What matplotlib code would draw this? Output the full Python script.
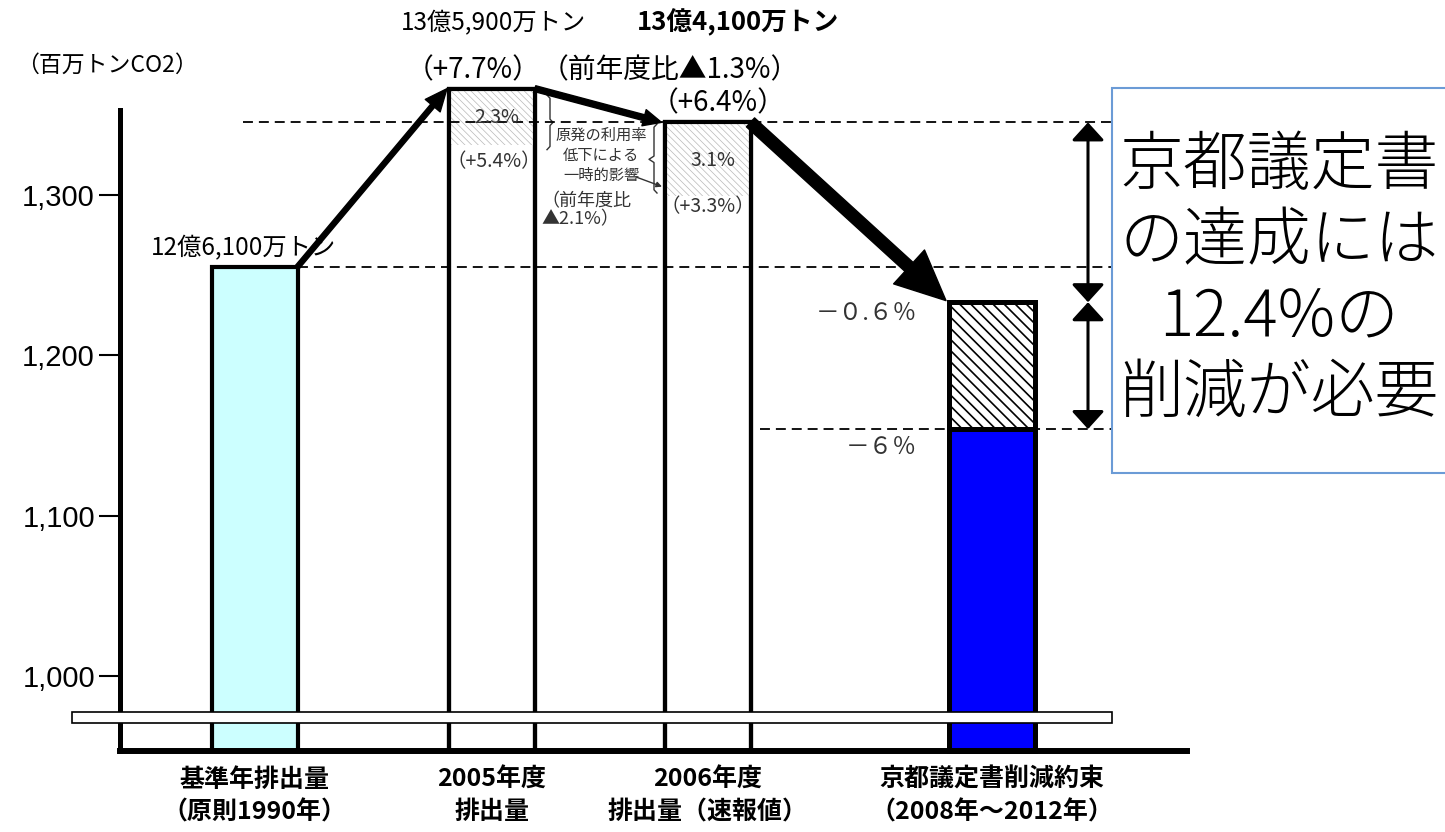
import matplotlib
matplotlib.use('Agg')
import matplotlib.pyplot as plt
from matplotlib.patches import Rectangle

# Fuentes: japonés con respaldo latino
plt.rcParams['font.family'] = ['Noto Sans CJK JP', 'DejaVu Sans']
plt.rcParams['hatch.linewidth'] = 1.0

# --------------------------
# DATOS (百万トンCO2)
# --------------------------
categories = ['基準年排出量\n（原則1990年）', '2005年度\n排出量',
              '2006年度\n排出量（速報値）', '京都議定書削減約束\n（2008年～2012年）']
emissions = [1255, 1366, 1345]          # 基準年, 2005, 2006
nuclear_bottom = [1331, 1299]           # límite inferior del efecto nuclear (2005, 2006)
kyoto_target = 1154                     # －6%
kyoto_upper = 1233                      # －0.6%
yticks = [1000, 1100, 1200, 1300]
ytick_labels = ['1,000', '1,100', '1,200', '1,300']

# --------------------------
# ESTILO / POSICIONES
# --------------------------
xpos = [254.5, 492, 707.5, 992]
bar_w = 86
base = 953.6
c_base = '#ccffff'
c_blue = '#0000ff'
c_box = '#6b9bd6'
c_txt = '#333333'

fig = plt.figure(figsize=(14.45, 8.32), dpi=100)
ax = fig.add_axes([0, 0, 1, 1])
ax.set_xlim(0, 1445)
ax.set_ylim(903.1, 1421.2)

for s in ['top', 'right']:
    ax.spines[s].set_visible(False)
ax.spines['left'].set_position(('data', 120))
ax.spines['left'].set_bounds(base, 1352.7)
ax.spines['left'].set_linewidth(3.6)
ax.spines['bottom'].set_position(('data', base))
ax.spines['bottom'].set_bounds(120, 1187)
ax.spines['bottom'].set_linewidth(4.3)

ax.set_yticks(yticks, ytick_labels)
ax.tick_params(axis='y', direction='out', length=15, width=1.5, pad=3, labelsize=21)
for t in ax.get_yticklabels():
    t.set_fontfamily('Liberation Sans')
ax.set_xticks(xpos, categories)
ax.tick_params(axis='x', length=0, pad=12, labelsize=18)
for t in ax.get_xticklabels():
    t.set_fontweight('bold')
    t.set_linespacing(1.45)

# --------------------------
# BARRAS
# --------------------------
bars = ax.bar(xpos[:3], [e - base for e in emissions], bottom=base, width=bar_w,
              color=[c_base, 'white', 'white'], edgecolor='black', linewidth=3, zorder=2)

with plt.rc_context({'hatch.linewidth': 0.5}):
    ax.bar(xpos[1:3], [emissions[i + 1] - nuclear_bottom[i] for i in range(2)],
           bottom=nuclear_bottom, width=bar_w, facecolor='white',
           edgecolor='#b8b8b8', hatch='\\\\\\\\\\', linewidth=0, zorder=2.1)

ax.bar(xpos[3], kyoto_target - base, bottom=base, width=bar_w,
       color=c_blue, edgecolor='black', linewidth=3.6, zorder=2)
with plt.rc_context({'hatch.linewidth': 1.2}):
    ax.bar(xpos[3], kyoto_upper - kyoto_target, bottom=kyoto_target, width=bar_w,
           facecolor='white', edgecolor='black', hatch='\\\\\\', linewidth=3.6, zorder=2)

# líneas de referencia discontinuas
dash = (0, (5.5, 3.3))
ax.plot([243, 1112], [emissions[2]] * 2, ls=dash, color='black', lw=1.3, zorder=3)
ax.plot([xpos[0] + bar_w / 2, 1112], [emissions[0]] * 2, ls=dash, color='black', lw=1.3, zorder=3)
ax.plot([760, 1112], [kyoto_target] * 2, ls=dash, color='black', lw=1.3, zorder=1.5)

# contornos encima
ax.bar(xpos[1:3], [e - base for e in emissions[1:]], bottom=base, width=bar_w,
       fill=False, edgecolor='black', linewidth=3, zorder=4)

# --------------------------
# FLECHAS
# --------------------------
ax.annotate('', xy=(xpos[1] - bar_w / 2 - 2, emissions[1]), xytext=(xpos[0] + bar_w / 2, emissions[0]),
            arrowprops=dict(arrowstyle='simple,head_length=1.6,head_width=1.4,tail_width=0.36',
                            mutation_scale=10, color='black', shrinkA=0, shrinkB=0), zorder=5)
ax.annotate('', xy=(xpos[2] - bar_w / 2 - 3, emissions[2]), xytext=(xpos[1] + bar_w / 2, emissions[1]),
            arrowprops=dict(arrowstyle='simple,head_length=1.3,head_width=1.2,tail_width=0.43',
                            mutation_scale=10, color='black', shrinkA=0, shrinkB=0), zorder=5)
ax.annotate('', xy=(xpos[3] - bar_w / 2 - 3, kyoto_upper + 1), xytext=(xpos[2] + bar_w / 2, emissions[2]),
            arrowprops=dict(arrowstyle='simple,head_length=1.2,head_width=1.1,tail_width=0.29',
                            mutation_scale=30, color='black', shrinkA=0, shrinkB=0), zorder=5)

for y0, y1 in [(emissions[2], kyoto_upper), (kyoto_upper, kyoto_target)]:
    ax.annotate('', xy=(1088, y1), xytext=(1088, y0),
                arrowprops=dict(arrowstyle='<|-|>,head_length=0.55,head_width=0.5',
                                mutation_scale=20, lw=2.2, color='black',
                                shrinkA=0, shrinkB=0), zorder=5)

# corte del eje
ax.add_patch(Rectangle((72, 971.0), 1112 - 72, 6.8, facecolor='white',
                       edgecolor='black', lw=1.2, zorder=6, clip_on=False))

# --------------------------
# TEXTOS
# --------------------------
ax.text(16, 1380.7, '（百万トンCO2）', ha='left', va='center', fontsize=16.5)
ax.text(243, 1266.8, '12億6,100万トン', ha='center', va='center', fontsize=17.5)
ax.text(493, 1406.9, '13億5,900万トン', ha='center', va='center', fontsize=17.5)
ax.text(738, 1406.9, '13億4,100万トン', ha='center', va='center', fontsize=18.5, fontweight='bold')
ax.text(473, 1377.6, '（+7.7%）', ha='center', va='center', fontsize=20)
ax.text(670, 1377.6, '（前年度比▲1.3%）', ha='center', va='center', fontsize=20)
ax.text(718, 1357.0, '（+6.4%）', ha='center', va='center', fontsize=20)

ax.text(497, 1348.3, '2.3%', ha='center', va='center', fontsize=14, color=c_txt, zorder=4)
t = ax.text(447, 1320.3, '（+5.4%）', ha='left', va='center', fontsize=14, color=c_txt, zorder=4)
t.set_clip_path(bars[1])
ax.text(713, 1321.5, '3.1%', ha='center', va='center', fontsize=14, color=c_txt, zorder=4)
t = ax.text(661, 1292.3, '（+3.3%）', ha='left', va='center', fontsize=14, color=c_txt, zorder=4)
t.set_clip_path(bars[2])

ax.text(601, 1324.5, '原発の利用率\n低下による\n一時的影響', ha='center', va='center',
        fontsize=11, linespacing=1.2, color=c_txt)
ax.text(541, 1290.4, '（前年度比\n▲2.1%）', ha='left', va='center', fontsize=13,
        linespacing=1.0, color=c_txt)

# llaves
bx, w = 547, 6
ax.plot([bx, bx + w / 2, bx + w / 2, bx + w, bx + w / 2, bx + w / 2, bx],
        [1362, 1360, 1347, 1345, 1343, 1330, 1328], color=c_txt, lw=1)
bx = 657
ax.plot([bx, bx - w / 2, bx - w / 2, bx - w - 2, bx - w / 2, bx - w / 2, bx],
        [1344, 1342, 1324, 1322, 1320, 1303, 1301], color=c_txt, lw=1)
ax.annotate('', xy=(662, 1305), xytext=(636, 1311),
            arrowprops=dict(arrowstyle='-|>', lw=1, color=c_txt, mutation_scale=8,
                            shrinkA=0, shrinkB=0))

ax.text(917, 1226.3, '－０.６％', ha='right', va='center', fontsize=17, color=c_txt)
ax.text(917, 1142.8, '－６％', ha='right', va='center', fontsize=17, color=c_txt)

# recuadro de mensaje
ax.add_patch(Rectangle((1112, 1126.7), 400, 1366.4 - 1126.7, facecolor='white',
                       edgecolor=c_box, lw=1.5, zorder=7, clip_on=False))
ax.text(1279, 1246.5, '京都議定書\nの達成には\n12.4%の\n削減が必要', ha='center', va='center',
        fontsize=46, linespacing=1.2, fontweight='light', zorder=8)

fig.savefig('out.png', dpi=100)
